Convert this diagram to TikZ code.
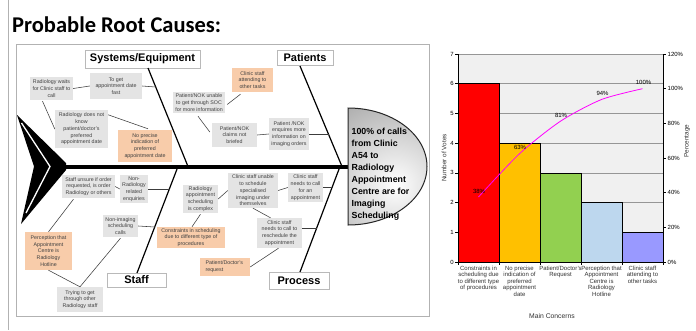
\documentclass[tikz,border=0pt]{standalone}
\usepackage{fontspec}
\setmainfont{Liberation Sans}
\newfontfamily\titlefont{Carlito}
\usetikzlibrary{calc,shadows}

\definecolor{causegray}{RGB}{228,228,228}
\definecolor{causeorange}{RGB}{248,204,170}
\definecolor{linkgray}{RGB}{60,60,60}
\definecolor{plotbg}{RGB}{240,240,240}
\definecolor{gridgray}{RGB}{150,150,150}
\definecolor{barred}{RGB}{255,0,0}
\definecolor{bargold}{RGB}{255,192,0}
\definecolor{bargreen}{RGB}{146,208,80}
\definecolor{barblue}{RGB}{189,215,238}
\definecolor{barviolet}{RGB}{153,153,255}
\definecolor{cumline}{RGB}{255,0,255}

\tikzset{
  sz/.style 2 args={minimum width=#1, minimum height=#2},
  cause/.style={fill=causegray, text=black!75, font=\fontsize{5.3}{6.8}\selectfont,
    align=center, inner sep=0.5pt},
  keycause/.style={cause, fill=causeorange},
  category/.style={fill=white, draw=gray!55, inner sep=0pt,
    font=\bfseries\fontsize{11}{13}\selectfont,
    drop shadow={shadow xshift=1.4pt, shadow yshift=-1.2pt, fill=gray!75, opacity=1}},
  bone/.style={line width=1.2pt, black},
  link/.style={linkgray, line width=0.55pt},
  chartfont/.style={font=\fontsize{6}{6.6}\selectfont},
}

\begin{document}
\begin{tikzpicture}[x=1pt, y=-1pt]
\useasboundingbox (0,0) rectangle (696,330);
\fill[white] (0,0) rectangle (696,330);

% slide frame and heading
\draw[gray!60, line width=0.8pt] (8,0) -- (8,330);
\node[anchor=base west, inner sep=0pt, font=\titlefont\bfseries\fontsize{22.5}{26}\selectfont]
  (title) at (12,32) {Probable Root Causes:};

% ---------------- fishbone ----------------
\draw[gray!60, line width=0.6pt] (16,44) rectangle (429,316);

% tail
\fill[black] (17,115) -- (66,163) -- (66,170) -- (21,224) -- (34,166.5) -- cycle;
\draw[white, line width=1.3pt, line join=miter] (21.5,123) -- (50,166.5) -- (26,213);

% spine
\draw[line width=4pt] (60,166.5) -- (348,166.5);

% head
\begin{scope}
  \clip (348,166.5) ellipse [x radius=79, y radius=58.5];
  \clip (348,100) rectangle (440,240);
  \shade[inner color=white, outer color=gray!80] (395,185) circle (115);
\end{scope}
\draw[black!85, line width=1pt] (348,108) arc [start angle=-90, end angle=90, x radius=79, y radius=58.5] -- cycle;
\node[anchor=north west, inner sep=0pt, align=left,
  font=\bfseries\fontsize{8.8}{12}\selectfont] (headtxt) at (351.5,127.5)
  {100\% of calls\\from Clinic\\A54 to\\Radiology\\Appointment\\Centre are for\\Imaging\\Scheduling};

% category labels
\node[category, sz={115}{18}] (sys)   at (142.5,59)  {Systems/Equipment};
\node[category, sz={56}{15}]  (pat)   at (305,57.5)  {Patients};
\node[category, sz={59}{14}]  (staff) at (136.5,280) {Staff};
\node[category, sz={60}{17}]  (proc)  at (299,280.5) {Process};

% bones
\coordinate (sysA) at (148,68);   \coordinate (sysB) at (188,166.5);
\coordinate (patA) at (300,66);   \coordinate (patB) at (342,166.5);
\coordinate (stA)  at (178,166.5);\coordinate (stB)  at (137,273);
\coordinate (prA)  at (340,166.5);\coordinate (prB)  at (300,272);
\draw[bone] (sysA) -- (sysB);
\draw[bone] (patA) -- (patB);
\draw[bone] (stA) -- (stB);
\draw[bone] (prA) -- (prB);

% causes: systems / equipment
\node[cause, sz={43}{23}] (wait)    at (51.5,88.5) {Radiology waits\\for Clinic staff to\\call};
\node[cause, sz={52}{26}] (fast)    at (116,86)    {To get\\appointment date\\fast};
\node[cause, sz={53}{38}] (notknow) at (81.5,129)  {Radiology does not\\know\\patient/doctor's\\preferred\\appointment date};
\node[keycause, sz={54}{32}] (noprec) at (145,146) {No precise\\indication of\\preferred\\appointment date};

% causes: patients
\node[keycause, sz={41}{24}] (attend) at (252.5,80) {Clinic staff\\attending to\\other tasks};
\node[cause, sz={52}{21}] (unable)  at (199,102.5) {Patient/NOK unable\\to get through SOC\\for more information};
\node[cause, sz={45}{24}] (brief)   at (234.5,135) {Patient/NOK\\claims not\\briefed};
\node[cause, sz={40}{32}] (enquire) at (289,134)   {Patient /NOK\\enquires more\\information on\\imaging orders};

% causes: staff
\node[cause, sz={53}{23}] (unsure)  at (88.5,186.5) {Staff unsure if order\\requested, is order\\Radiology or others};
\node[cause, sz={28}{28}] (nonrad)  at (134,189)    {Non-\\Radiology\\related\\enquiries};
\node[cause, sz={35}{22}] (nonimg)  at (120.5,226)  {Non-imaging\\scheduling\\calls};
\node[keycause, sz={47}{38}] (percep) at (48.5,251) {Perception that\\Appointment\\Centre is\\Radiology\\Hotline};
\node[cause, sz={46}{25}] (trying)  at (80,299.5)   {Trying to get\\through other\\Radiology staff};

% causes: process
\node[cause, sz={35}{28}] (complex)  at (200.5,199) {Radiology\\appointment\\scheduling\\is complex};
\node[cause, sz={50}{35}] (specimg)  at (253,190.5) {Clinic staff unable\\to schedule\\specialised\\imaging under\\themselves};
\node[cause, sz={35}{29}] (needcall) at (305.5,187.5) {Clinic staff\\needs to call\\for an\\appointment};
\node[cause, sz={45}{30}] (resched)  at (279.5,233) {Clinic staff\\needs to call to\\reschedule the\\appointment};
\node[keycause, sz={68}{21}] (constr) at (191,237.5) {Constraints in scheduling\\due to different type of\\procedures};
\node[keycause, sz={50}{18}, align=left] (pdreq) at (225,267) {Patient/Doctor's\\request\phantom{xxxxxxxx}};

% attachment points on the bones
\coordinate (b1) at (155.5,87);
\coordinate (b2) at (328.5,134);
\coordinate (b3) at (169.5,189);
\coordinate (b4) at (154.8,227);
\coordinate (b5) at (332.2,187.5);
\coordinate (b6) at (316.8,228);

% connectors between causes
\draw[link] (wait.east) -- (fast.west);
\draw[link] (fast.east) -- (b1);
\draw[link] ($(wait.south)+(-9,1)$) -- (notknow.west);
\draw[link] ($(notknow.north east)+(0,5)$) -- ($(noprec.north)+(3,-1)$);
\draw[link] ($(unable.east)+(2,2)$) -- ($(attend.south)+(-12,2)$);
\draw[link] ($(unable.south)+(-1,3)$) -- ($(brief.west)+(-2,-3)$);
\draw[link] (brief.east) -- (enquire.west);
\draw[link] (enquire.east) -- (b2);
\draw[link] (unsure.east) -- (nonrad.west);
\draw[link] (nonrad.east) -- (b3);
\draw[link] (nonimg.east) -- (b4);
\draw[link] ($(unsure.south)+(-15,1)$) -- (percep.north);
\draw[link] (percep.south) -- (trying.north);
\draw[link] ($(nonimg.south)+(0,1)$) -- (trying.north);
\draw[link] (complex.east) -- (specimg.west);
\draw[link] (specimg.east) -- (needcall.west);
\draw[link] (needcall.east) -- (b5);
\draw[link] (specimg.south) -- ($(resched.north)+(-9,0)$);
\draw[link] ($(resched.east)+(0,-5)$) -- (b6);
\draw[link] ($(complex.south)+(0,1)$) -- ($(constr.north)+(1,0)$);
\draw[link] (pdreq.east) -- ($(resched.south)+(-1,0)$);

% ---------------- Pareto chart ----------------
\fill[plotbg] (458,54) rectangle (663,262);
\foreach \v in {1,...,7}
  \draw[gridgray, line width=0.5pt] (458,{262-\v*29.714}) -- (663,{262-\v*29.714});
\foreach \i/\v/\c in {0/6/barred,1/4/bargold,2/3/bargreen,3/2/barblue,4/1/barviolet}
  \draw[fill=\c, line width=0.6pt] ({458+41*\i},262) rectangle ({499+41*\i},{262-\v*29.714});
\draw[line width=0.6pt] (458,54) -- (458,262) -- (663,262) -- (663,54);
\foreach \i in {0,...,5}
  \draw[line width=0.5pt] ({458+41*\i},262) -- ({458+41*\i},265);
\foreach \v in {0,...,7} {
  \draw[line width=0.5pt] (455,{262-\v*29.714}) -- (458,{262-\v*29.714});
  \node[chartfont, anchor=east, inner sep=0pt] (ly\v) at (454,{262-\v*29.714}) {\v};
}
\foreach \p in {0,20,...,120} {
  \draw[line width=0.5pt] (663,{262-\p*1.73333}) -- (666,{262-\p*1.73333});
  \node[chartfont, anchor=west, inner sep=0pt] (ry\p) at (667.5,{262-\p*1.73333}) {\p\%};
}

% cumulative percentage
\draw[cumline, line width=0.8pt] plot[smooth, tension=0.45] coordinates
  {(478.5,197) (519.5,153.7) (560.5,121.2) (601.5,99.5) (642.5,88.7)};
\node[chartfont, inner sep=0pt] (p1) at (479,191)   {38\%};
\node[chartfont, inner sep=0pt] (p2) at (520,147)   {63\%};
\node[chartfont, inner sep=0pt] (p3) at (561,115)   {81\%};
\node[chartfont, inner sep=0pt] (p4) at (602.5,93)  {94\%};
\node[chartfont, inner sep=0pt] (p5) at (643.5,82)  {100\%};

% category names
\foreach \i/\t in {0/{Constraints in\\scheduling due\\to different type\\of procedures},
                   1/{No precise\\indication of\\preferred\\appointment\\date},
                   2/{Patient/Doctor's\\Request},
                   3/{Perception that\\Appointment\\Centre is\\Radiology\\Hotline},
                   4/{Clinic staff\\attending to\\other tasks}}
  \node[chartfont, anchor=north, align=center, inner sep=0pt, text=black!80] (cat\i)
    at ({478.5+41*\i},265.5) {\t};

% axis titles
\node[font=\fontsize{6.4}{7}\selectfont, rotate=90, inner sep=0pt, text=black!80] (ytitle) at (444,158) {Number of Votes};
\node[font=\fontsize{6.4}{7}\selectfont, rotate=90, inner sep=0pt, text=black!80] (y2title) at (687,141) {Percentage};
\node[font=\fontsize{6.8}{8}\selectfont, inner sep=0pt, text=black!80] (xtitle) at (552,316) {Main Concerns};

\end{tikzpicture}
\end{document}
